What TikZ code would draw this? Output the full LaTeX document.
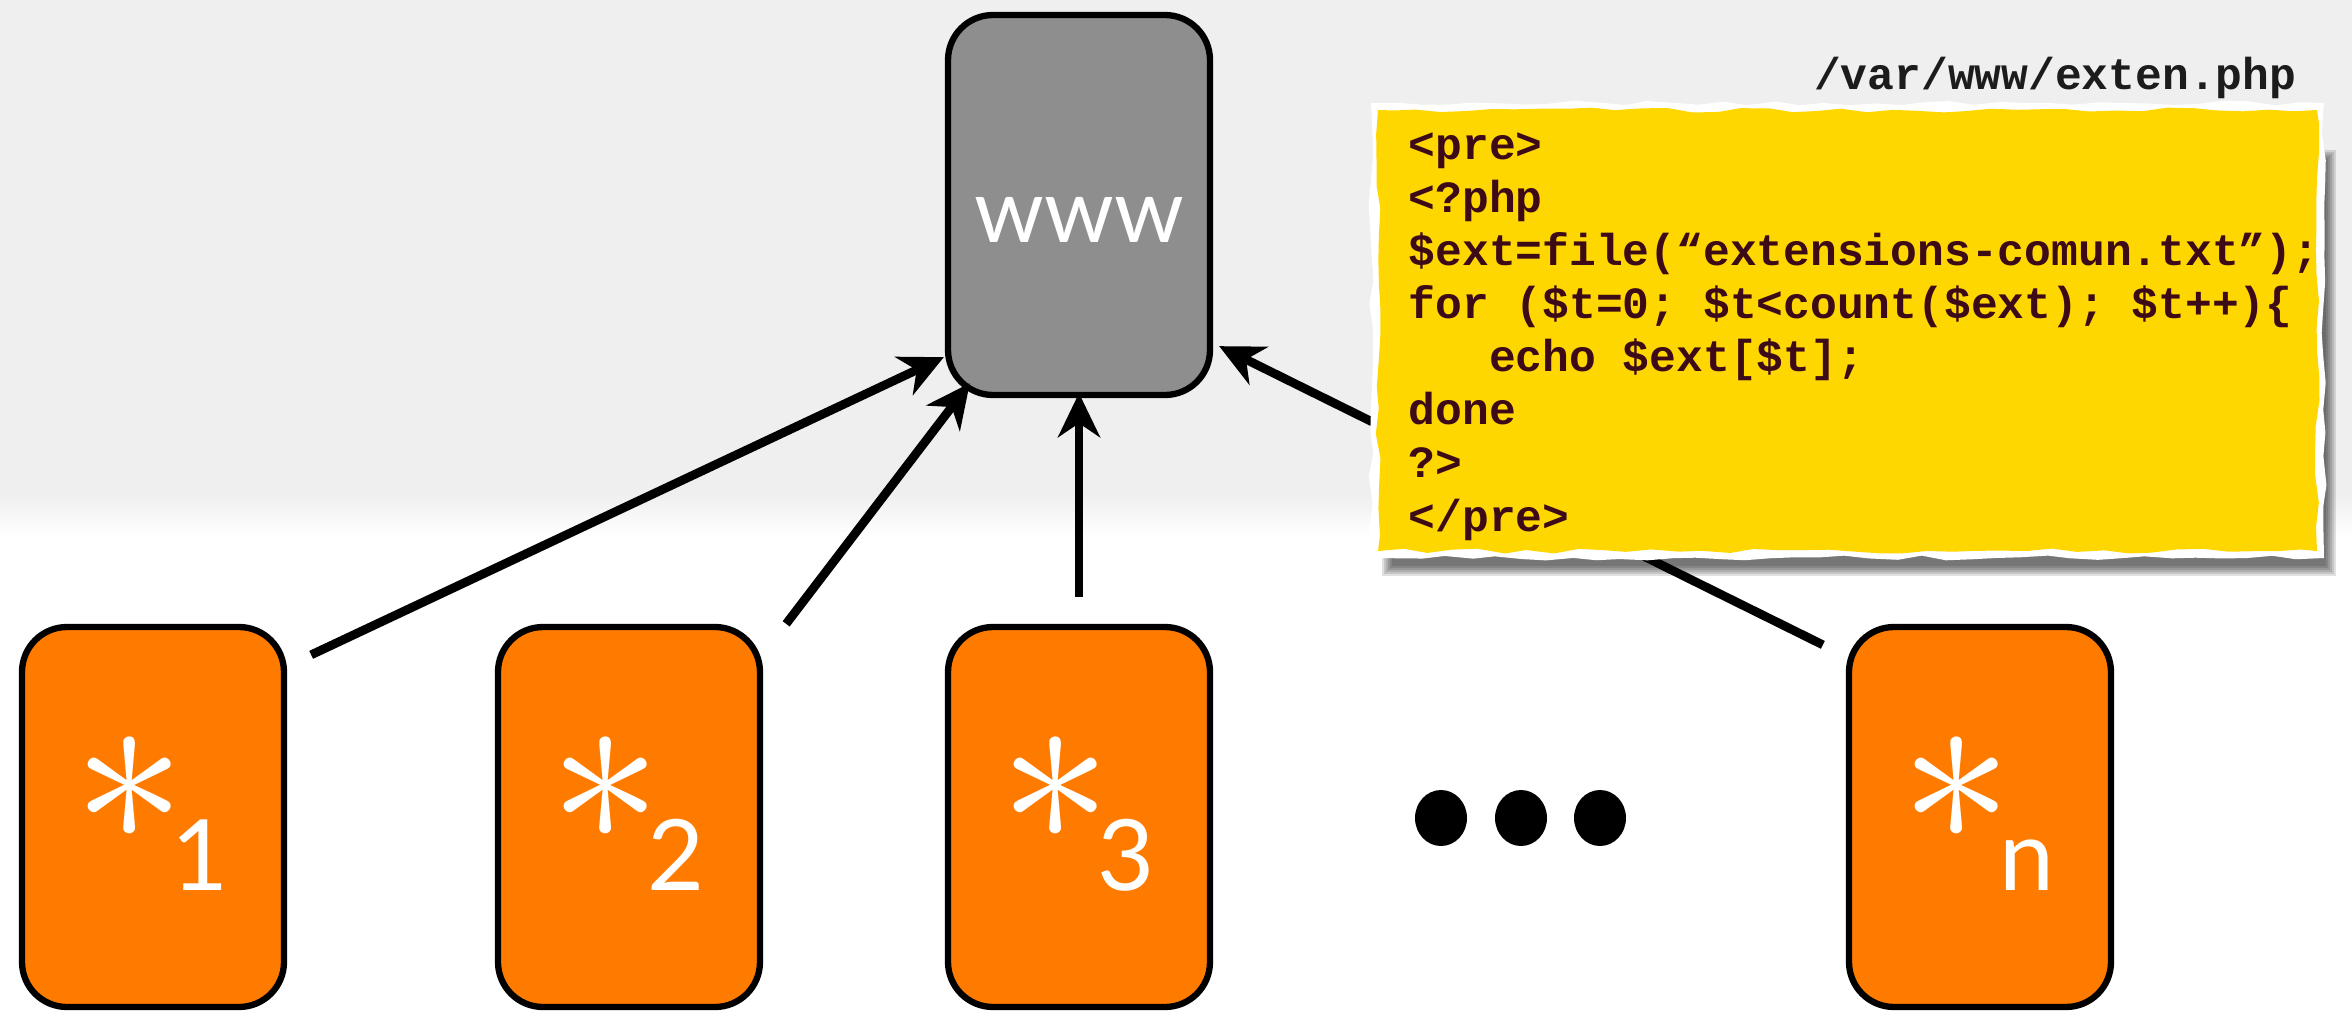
\documentclass[tikz,border=0pt]{standalone}
\usepackage{fontspec}
\usepackage{graphicx}
\usetikzlibrary{arrows.meta,calc,shapes.geometric,decorations.pathmorphing}

\newfontfamily\gillfont{Lato}
\newfontfamily\codefont{Liberation Mono}

\definecolor{bggray}{HTML}{EFEFEF}
\definecolor{servergray}{HTML}{8E8E8E}
\definecolor{clientorange}{HTML}{FF7B00}
\definecolor{notegold}{HTML}{FFD700}
\definecolor{codered}{HTML}{3D0A18}
\definecolor{pathblack}{HTML}{1C1C1C}

% big asterisk, box trimmed to the ink
\newcommand\bigast{\makebox[0.72\width]{\raisebox{0pt}[0.9\height][0pt]{\scalebox{6.4}{$\ast$}}}}

\tikzset{
  card/.style={draw=black, line width=1.8pt, rounded corners=4.5mm,
    minimum width=26.2mm, minimum height=38mm, inner sep=0pt},
  server/.style={card, fill=servergray},
  client/.style={card, fill=clientorange},
  asterisk/.style={text=white, inner sep=0pt, outer sep=0pt},
  idx/.style={text=white, font=\gillfont\fontsize{28}{30}\selectfont,
    inner sep=0pt, outer sep=0pt, anchor=base},
  ellipsisdot/.style={ellipse, fill=black, minimum width=5.2mm, minimum height=5.6mm, inner sep=0pt},
  link/.style={line width=2.5pt, -{Stealth[length=4.4mm,width=4.2mm,inset=1.4mm]}},
  listing/.style={font=\codefont\bfseries\fontsize{12.7}{15.1}\selectfont, inner sep=0pt},
  rough/.style={decorate, decoration={random steps, segment length=2.5mm, amplitude=0.25mm}},
}

\begin{document}
\begin{tikzpicture}[x=0.1mm, y=-0.1mm]
\useasboundingbox (0,0) rectangle (2352,1012);

% backdrop, grey fading out to white
\fill[bggray] (0,0) rectangle (2352,494);
\shade[top color=bggray, bottom color=white] (0,494) rectangle (2352,537);

% web server
\node[server] (www) at (1079,205) {};
\node[text=white, font=\gillfont\fontsize{25.3}{30}\selectfont] (wwwlabel)
  at ($(www)+(0,15)$) {www};

% clients
\foreach \i/\x in {1/153, 2/629, 3/1079, n/1980} {
  \node[client] (c\i) at (\x,817) {};
  \node[asterisk] (c\i-ast) at ($(c\i)+(-23,-23)$) {\bigast};
  \node[idx] (c\i-idx) at ($(c\i)+(47,73)$) {\i};
}
\foreach \x [count=\k] in {1441,1521,1600}
  \node[ellipsisdot] (dot\k) at (\x,818) {};

% where the requests leave and arrive
\coordinate (from1) at ($(c1.north east)+(24,31)$);
\coordinate (from2) at ($(c2.north east)+(23,0)$);
\coordinate (from3) at ($(c3.north)+(0,-27)$);
\coordinate (from4) at ($(cn.north west)+(-23,21)$);
\coordinate (to1) at ($(www.south west)+(-1,-41)$);
\coordinate (to2) at ($(www.south west)+(25,-15)$);
\coordinate (to3) at ($(www.south)+(0,-5)$);
\coordinate (to4) at ($(www.south east)+(6,-52)$);
\foreach \k in {1,...,4}
  \draw[link] (from\k) -- (to\k);

% note pasted over the picture, with a soft shadow
\pgfmathsetseed{12}
\foreach \b in {0,2,...,10}
  \fill[black, opacity=0.12] (1392-\b,160-\b) rectangle (2326+\b,566+\b);
\fill[white, rough] (1371,103) rectangle (2324,558);
\fill[notegold, rough] (1378,110) rectangle (2317,551);

\node[listing, text=codered, align=left, anchor=base west] (script) at (1408,531) {%
<pre>\\
<?php\\
\$ext=file(“extensions-comun.txt”);\\
for (\$t=0; \$t<count(\$ext); \$t++)\{\\
\phantom{ccc}echo \$ext[\$t];\\
done\\
?>\\
</pre>};
\node[listing, text=pathblack, anchor=base east] (phpfile) at (2297,89) {/var/www/exten.php};
\end{tikzpicture}
\end{document}
